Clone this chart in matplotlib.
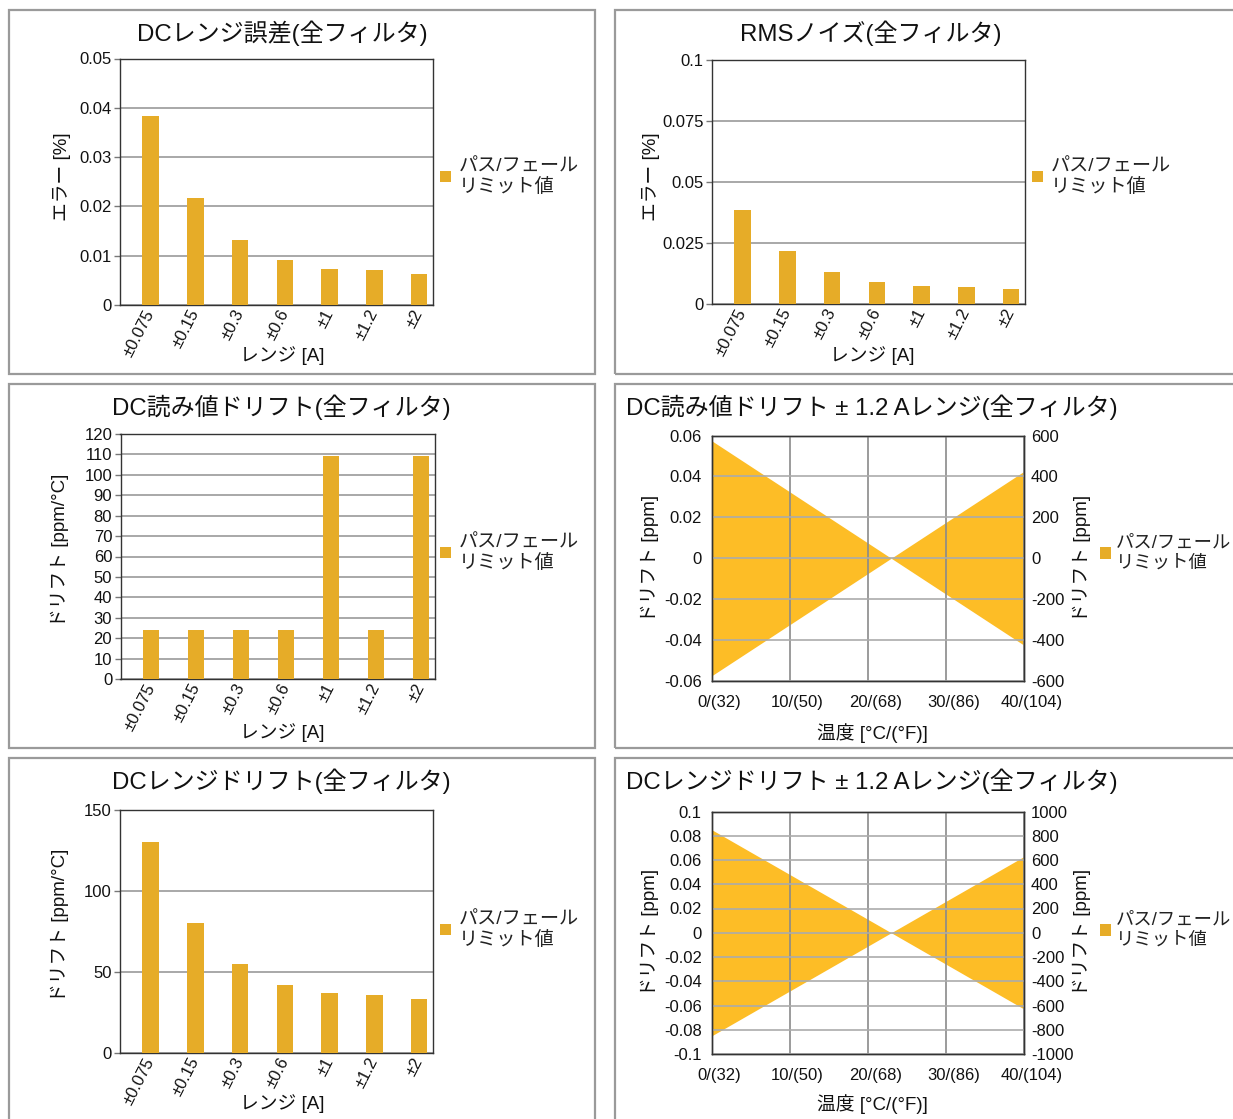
import matplotlib
matplotlib.use('Agg')
import matplotlib.pyplot as plt
from matplotlib.patches import Rectangle, Patch
import matplotlib.transforms as mtransforms

plt.rcParams['font.family'] = ['Liberation Sans', 'Noto Sans CJK JP']

# ---------------- data ----------------
ranges = ['±0.075', '±0.15', '±0.3', '±0.6', '±1', '±1.2', '±2']
dc_range_error = [0.0383, 0.0217, 0.0132, 0.0091, 0.0074, 0.0070, 0.0062]
rms_noise = [0.0384, 0.0217, 0.0131, 0.0090, 0.0074, 0.0069, 0.0063]
dc_reading_drift = [24, 24, 24, 24, 109, 24, 109]
dc_range_drift = [130, 80, 55, 42, 37, 36, 33]

err_ticks = [0, 0.01, 0.02, 0.03, 0.04, 0.05]
err_labels = ['0', '0.01', '0.02', '0.03', '0.04', '0.05']
rms_ticks = [0, 0.025, 0.05, 0.075, 0.1]
rms_labels = ['0', '0.025', '0.05', '0.075', '0.1']
rdrift_ticks = [0, 10, 20, 30, 40, 50, 60, 70, 80, 90, 100, 110, 120]
rdrift_labels = ['0', '10', '20', '30', '40', '50', '60', '70', '80', '90', '100', '110', '120']
gdrift_ticks = [0, 50, 100, 150]
gdrift_labels = ['0', '50', '100', '150']

temp_c = [0, 23, 40]
temp_ticks = [0, 10, 20, 30, 40]
temp_tick_labels = ['0/(32)', '10/(50)', '20/(68)', '30/(86)', '40/(104)']
reading_limit_upper = [0.0575, 0.0, 0.0425]
reading_limit_lower = [-0.0575, 0.0, -0.0425]
range_limit_upper = [0.0851, 0.0, 0.0629]
range_limit_lower = [-0.0851, 0.0, -0.0629]

rd_left_ticks = [-0.06, -0.04, -0.02, 0, 0.02, 0.04, 0.06]
rd_left_labels = ['-0.06', '-0.04', '-0.02', '0', '0.02', '0.04', '0.06']
rd_right_ticks = [-600, -400, -200, 0, 200, 400, 600]
rd_right_labels = ['-600', '-400', '-200', '0', '200', '400', '600']
gd_left_ticks = [-0.1, -0.08, -0.06, -0.04, -0.02, 0, 0.02, 0.04, 0.06, 0.08, 0.1]
gd_left_labels = ['-0.1', '-0.08', '-0.06', '-0.04', '-0.02', '0', '0.02', '0.04', '0.06', '0.08', '0.1']
gd_right_ticks = [-1000, -800, -600, -400, -200, 0, 200, 400, 600, 800, 1000]
gd_right_labels = ['-1000', '-800', '-600', '-400', '-200', '0', '200', '400', '600', '800', '1000']

legend_label = 'パス/フェール\nリミット値'

# ---------------- style ----------------
W, H = 1233, 1119
DPI = 100
BAR = '#E6AC28'
FILL = '#FDBD26'
TXT = '#111111'

fig = plt.figure(figsize=(W / DPI, H / DPI), dpi=DPI)
fig.patch.set_facecolor('white')


def px_axes(l, t, r, b):
    return fig.add_axes([l / W, 1 - b / H, (r - l) / W, (b - t) / H])


def ftext(x, y, s, **kw):
    fig.text(x / W, 1 - y / H, s, ha=kw.pop('ha', 'center'), va=kw.pop('va', 'center'),
             color=kw.pop('color', TXT), **kw)


def border(l, t, r, b):
    fig.add_artist(Rectangle((l / W, 1 - b / H), (r - l) / W, (b - t) / H,
                             transform=fig.transFigure, fill=False,
                             ec='#9a9a9a', lw=1.6))


def legend(ax, x, y, color, size=13.8, pad=0.42):
    ax.legend(handles=[Patch(facecolor=color, edgecolor='none')], labels=[legend_label],
              loc='center left', bbox_to_anchor=(x / W, 1 - y / H),
              bbox_transform=fig.transFigure, frameon=False, borderpad=0,
              borderaxespad=0, handlelength=10.5 / (size * DPI / 72),
              handleheight=10.5 / (size * DPI / 72),
              handletextpad=pad, fontsize=size, labelcolor='#222222')


def style_spines(ax, color='#333333'):
    for s in ax.spines.values():
        s.set_color(color)
        s.set_linewidth(1.0)


def bar_panel(rect, values, ticks, labels, title, ylabel, title_xy, ylabel_xy,
              xlabel_xy, leg_xy):
    ax = px_axes(*rect)
    x = list(range(len(ranges)))
    ax.bar(x, values, width=0.37, color=BAR, zorder=3)
    ax.set_xlim(-0.68, 6.31)
    ax.set_ylim(ticks[0], ticks[-1])
    ax.set_yticks(ticks)
    ax.set_yticklabels(labels)
    ax.set_xticks(x)
    ax.set_xticklabels(ranges, rotation=63, ha='right', va='center',
                       rotation_mode='anchor')
    off = mtransforms.ScaledTranslation(4 / DPI, 0, fig.dpi_scale_trans)
    for lab in ax.get_xticklabels():
        lab.set_transform(lab.get_transform() + off)
    ax.yaxis.grid(True, color='#9a9a9a', lw=1.2, zorder=1)
    ax.set_axisbelow(True)
    style_spines(ax)
    ax.tick_params(axis='y', length=4, width=1, color='#777777', labelsize=12,
                   pad=2, labelcolor=TXT)
    ax.tick_params(axis='x', length=0, labelsize=12, pad=4, labelcolor=TXT)
    ftext(*title_xy, title, fontsize=17.3)
    ftext(*ylabel_xy, ylabel, fontsize=13.5, rotation=90)
    ftext(*xlabel_xy, 'レンジ [A]', fontsize=13.5)
    legend(ax, *leg_xy, BAR)
    return ax


def range_panel(rect, upper, lower, lticks, llabels, rticks, rlabels, title,
                title_y, xlabel_y, leg_y):
    ax = px_axes(*rect)
    ax.fill_between(temp_c, upper, lower, color=FILL, lw=0, zorder=1)
    ax.set_xlim(temp_ticks[0], temp_ticks[-1])
    ax.set_ylim(lticks[0], lticks[-1])
    ax.set_xticks(temp_ticks)
    ax.set_xticklabels(temp_tick_labels)
    ax.set_yticks(lticks)
    ax.set_yticklabels(llabels)
    ax.xaxis.grid(True, color='#8a8a8a', lw=1.2)
    ax.yaxis.grid(True, color='#ababab', lw=1.2)
    ax.set_axisbelow(False)
    style_spines(ax)
    ax.tick_params(axis='y', length=0, labelsize=12, pad=7, labelcolor=TXT)
    ax.tick_params(axis='x', length=0, labelsize=12, pad=10, labelcolor=TXT)
    off = mtransforms.ScaledTranslation(8 / DPI, 0, fig.dpi_scale_trans)
    for lab in ax.get_xticklabels():
        lab.set_transform(lab.get_transform() + off)
    ax2 = ax.twinx()
    ax2.set_ylim(rticks[0], rticks[-1])
    ax2.set_yticks(rticks)
    ax2.set_yticklabels(rlabels)
    ax2.tick_params(axis='y', length=0, labelsize=12, pad=5, labelcolor=TXT)
    style_spines(ax2)
    ftext(626, title_y, title, fontsize=17.3, ha='left')
    ftext(650, (rect[1] + rect[3]) / 2, 'ドリフト [ppm]', fontsize=13.5, rotation=90)
    ftext(1082, (rect[1] + rect[3]) / 2, 'ドリフト [ppm]', fontsize=13.5, rotation=90)
    ftext(872, xlabel_y, '温度 [°C/(°F)]', fontsize=13.5)
    legend(ax2, 1100, leg_y, BAR, size=13.2, pad=0.3)
    return ax


# panel borders
for (t, b) in [(9.5, 374), (384, 748), (758, 1130)]:
    border(8.5, t, 595, b)
    border(615, t, 1245, b)

bar_panel((120, 58.5, 433, 305), dc_range_error, err_ticks, err_labels,
          'DCレンジ誤差(全フィルタ)', 'エラー [%]', (282, 33), (62, 177),
          (282, 356), (440, 177))
bar_panel((712, 59.5, 1025, 304), rms_noise, rms_ticks, rms_labels,
          'RMSノイズ(全フィルタ)', 'エラー [%]', (871, 33), (651, 177),
          (872, 356), (1032, 177))
bar_panel((120.5, 434, 435, 679), dc_reading_drift, rdrift_ticks, rdrift_labels,
          'DC読み値ドリフト(全フィルタ)', 'ドリフト [ppm/°C]', (281, 407), (60, 550),
          (282, 733), (440, 553))
bar_panel((120, 809.5, 433, 1053), dc_range_drift, gdrift_ticks, gdrift_labels,
          'DCレンジドリフト(全フィルタ)', 'ドリフト [ppm/°C]', (281, 781), (60, 925),
          (282, 1104), (440, 930))

range_panel((711.5, 435.5, 1024, 681), reading_limit_upper, reading_limit_lower,
            rd_left_ticks, rd_left_labels, rd_right_ticks, rd_right_labels,
            'DC読み値ドリフト ± 1.2 Aレンジ(全フィルタ)', 407, 733, 553)
range_panel((711.5, 811.5, 1024, 1054), range_limit_upper, range_limit_lower,
            gd_left_ticks, gd_left_labels, gd_right_ticks, gd_right_labels,
            'DCレンジドリフト ± 1.2 Aレンジ(全フィルタ)', 781, 1104, 930)

fig.savefig('out.png', dpi=DPI)
